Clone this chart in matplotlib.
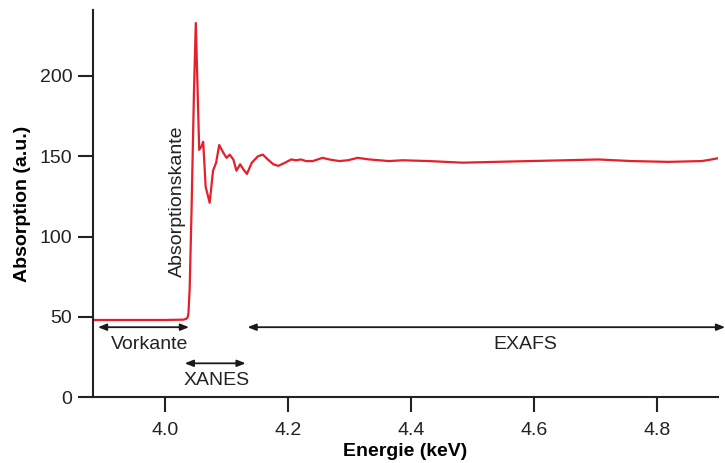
import numpy as np
import matplotlib
matplotlib.use("Agg")
import matplotlib.pyplot as plt

plt.rcParams["font.family"] = ["Liberation Sans", "DejaVu Sans"]

# spectrum (energy in keV, absorption in a.u.)
energy = [3.883, 3.95, 4.00, 4.030, 4.035, 4.037, 4.038, 4.040, 4.043, 4.047,
          4.050, 4.0555, 4.059, 4.062, 4.066, 4.0725, 4.078, 4.083, 4.088,
          4.095, 4.100, 4.105, 4.111, 4.116, 4.122, 4.127, 4.133, 4.141,
          4.151, 4.159, 4.167, 4.176, 4.184, 4.195, 4.205, 4.213, 4.221,
          4.229, 4.240, 4.248, 4.256, 4.267, 4.283, 4.297, 4.313, 4.332,
          4.364, 4.386, 4.429, 4.483, 4.537, 4.592, 4.650, 4.704, 4.758,
          4.818, 4.872, 4.888, 4.901]
absorption = [48, 48, 48, 48.2, 48.8, 50, 52, 67, 115, 190,
              233, 154, 156, 159, 131, 121, 141, 146, 157,
              152, 149, 151, 148, 141, 145, 142, 139, 146,
              150, 151, 148, 145, 144, 146, 148, 147.5, 148,
              147, 147, 148, 149, 148, 147, 147.5, 149, 148,
              147, 147.5, 147, 146, 146.5, 147, 147.5, 148, 147,
              146.5, 147, 148, 149]

# region markers: (label, start, end, arrow y, text x, text y)
regions = [
    ("Vorkante", 3.891, 4.039, 43.5, 3.975, 33),
    ("XANES", 4.032, 4.131, 21, 4.084, 10.5),
    ("EXAFS", 4.134, 4.91, 43.5, 4.586, 33),
]
edge_label = "Absorptionskante"

fig = plt.figure(figsize=(7.25, 4.63), dpi=100)
ax = fig.add_axes([0.1283, 0.1425, 0.8617, 0.8355])

ax.plot(energy, absorption, color="#e3202b", lw=1.6)

for name, x0, x1, ya, xt, yt in regions:
    ax.annotate("", xy=(x0, ya), xytext=(x1, ya), annotation_clip=False,
                arrowprops=dict(arrowstyle="<|-|>,head_length=0.5,head_width=0.2",
                                color="#1a1a1a", lw=1.3, shrinkA=0, shrinkB=0))
    ax.text(xt, yt, name, ha="center", va="center", fontsize=14, color="#222222")

ax.text(4.020, 122, edge_label, rotation=90, ha="center", va="center",
        fontsize=14, color="#222222")

ax.set_xlim(3.883, 4.898)
ax.set_ylim(0, 241)
ax.set_xticks([4.0, 4.2, 4.4, 4.6, 4.8])
ax.set_yticks([0, 50, 100, 150, 200])
ax.spines["top"].set_visible(False)
ax.spines["right"].set_visible(False)
for s in ("left", "bottom"):
    ax.spines[s].set_linewidth(1.5)
    ax.spines[s].set_color("#222222")
ax.tick_params(direction="out", length=11, width=1.5, labelsize=14,
               colors="#222222")
ax.tick_params(axis="x", pad=7)
ax.tick_params(axis="y", pad=4)
ax.set_xlabel("Energie (keV)", fontsize=14, fontweight="bold", labelpad=3)
ax.set_ylabel("Absorption (a.u.)", fontsize=14, fontweight="bold", labelpad=6)

fig.savefig("out.png", dpi=100)
